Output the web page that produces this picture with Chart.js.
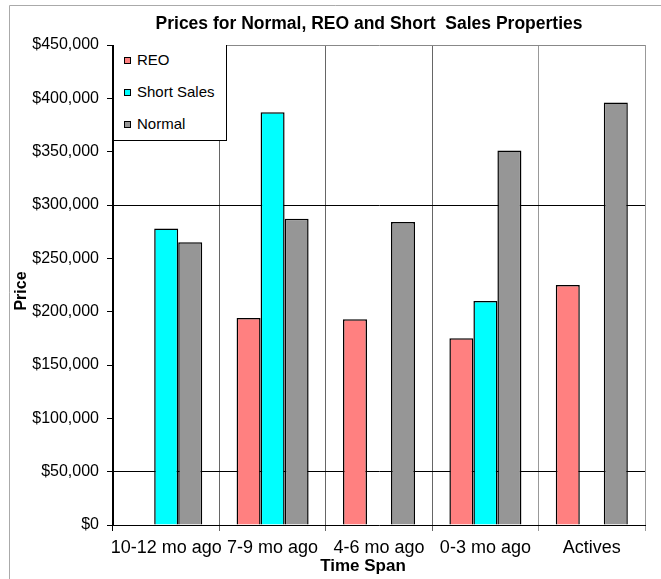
<!DOCTYPE html>
<html>
<head>
<meta charset="utf-8">
<script src="https://cdn.jsdelivr.net/npm/chart.js"></script>
<style>
body { margin: 0; background: #fff; }
#wrap { position: relative; width: 661px; height: 579px; }
#legend {
    position: absolute; left: 113px; top: 45px; width: 114px; height: 96px;
    box-sizing: border-box; background: #fff;
    border-left: 1px solid #000; border-right: 1px solid #000; border-bottom: 1px solid #000;
    font-family: "Liberation Sans", Arial, sans-serif; font-size: 15px; color: #000;
}
.item { position: absolute; left: 10px; height: 20px; line-height: 20px; white-space: nowrap; }
.swatch { display: inline-block; width: 5px; height: 5px; border: 1px solid #000; margin-right: 6px; vertical-align: 1px; }
</style>
</head>
<body>
<div id="wrap">
    <canvas id="priceChart" width="661" height="579"></canvas>
    <div id="legend"></div>
</div>
<script>
// values
const categories = ["10-12 mo ago", "7-9 mo ago", "4-6 mo ago", "0-3 mo ago", "Actives"];
const reoPrices = [null, 194000, 193000, 175000, 225000];
const shortPrices = [278000, 387000, null, 210000, null];
const normalPrices = [265000, 287000, 284000, 351000, 396000];

const seriesNames = ["REO", "Short Sales", "Normal"];
const seriesColors = ["#FF8080", "#00FFFF", "#969696"];

const FONT = "'Liberation Sans', Arial, sans-serif";

// title, axis titles and the outer chart border
const textPlugin = {
    id: "texts",
    beforeDraw(chart) {
        const c = chart.ctx;
        c.save();
        c.strokeStyle = "#aaa";
        c.lineWidth = 1;
        c.beginPath();
        c.moveTo(9.5, 579);
        c.lineTo(9.5, 5.5);
        c.lineTo(661, 5.5);
        c.stroke();
        c.restore();
    },
    afterDraw(chart) {
        const c = chart.ctx;
        c.save();
        c.fillStyle = "#000";
        c.textAlign = "center";
        c.textBaseline = "middle";
        c.font = "bold 17.5px " + FONT;
        c.fillText("Prices for Normal, REO and Short  Sales Properties", 369, 24);
        c.font = "bold 17px " + FONT;
        c.fillText("Time Span", 363, 566);
        c.font = "bold 16px " + FONT;
        c.translate(22, 291);
        c.rotate(-Math.PI / 2);
        c.fillText("Price", 0, 0);
        c.restore();
    }
};

const xLineColors = ["#000", "#666", "#666", "#666", "#999", "#999"];

const chart = new Chart("priceChart", {
    type: "bar",
    data: {
        labels: categories,
        datasets: [
            { label: seriesNames[0], data: reoPrices, backgroundColor: seriesColors[0] },
            { label: seriesNames[1], data: shortPrices, backgroundColor: seriesColors[1] },
            { label: seriesNames[2], data: normalPrices, backgroundColor: seriesColors[2] }
        ]
    },
    options: {
        responsive: false,
        animation: false,
        layout: { padding: { left: 0, top: 45, right: 16, bottom: 0 } },
        datasets: {
            bar: {
                borderColor: "#000",
                borderWidth: 1.5,
                categoryPercentage: 0.677,
                barPercentage: 1
            }
        },
        plugins: {
            legend: { display: false },
            tooltip: { enabled: false }
        },
        scales: {
            x: {
                grid: {
                    offset: true,
                    color: (ctx) => xLineColors[ctx.index] || "#999",
                    tickLength: 6
                },
                border: { color: "#000" },
                ticks: {
                    color: "#000",
                    padding: 6,
                    maxRotation: 0,
                    autoSkip: false,
                    font: { family: FONT, size: 18 }
                },
                afterFit: (scale) => { scale.height = 54; }
            },
            y: {
                min: 0,
                max: 450000,
                grid: {
                    color: (ctx) => {
                        const v = ctx.tick.value;
                        if (v === 50000 || v === 300000) return "#000";
                        if (v === 450000) return "#888";
                        return "rgba(0,0,0,0)";
                    },
                    tickColor: "#000",
                    tickLength: 6
                },
                border: { color: "#000" },
                ticks: {
                    stepSize: 50000,
                    color: "#000",
                    padding: 8,
                    font: { family: FONT, size: 16 },
                    callback: (v) => "$" + v.toLocaleString("en-US")
                },
                afterFit: (scale) => { scale.width = 113; }
            }
        }
    },
    plugins: [textPlugin]
});

// legend box inside the plot, top left
const legendBox = document.getElementById("legend");
const itemTops = [5, 37, 69];
chart.data.datasets.forEach((ds, i) => {
    const item = document.createElement("div");
    item.className = "item";
    item.style.top = itemTops[i] + "px";
    const sw = document.createElement("span");
    sw.className = "swatch";
    sw.style.backgroundColor = ds.backgroundColor;
    item.appendChild(sw);
    item.appendChild(document.createTextNode(ds.label));
    legendBox.appendChild(item);
});
</script>
</body>
</html>
